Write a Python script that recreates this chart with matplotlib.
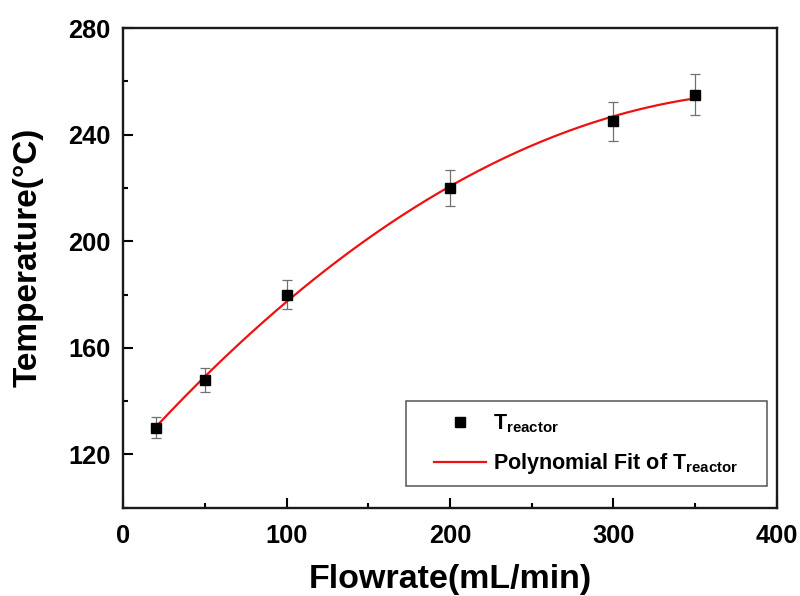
import numpy as np
import matplotlib
matplotlib.use("Agg")
import matplotlib.pyplot as plt
from matplotlib.ticker import MultipleLocator
from matplotlib.patches import Rectangle

plt.rcParams['font.family'] = ['Liberation Sans', 'DejaVu Sans']
plt.rcParams['font.weight'] = 'bold'
plt.rcParams['mathtext.fontset'] = 'custom'
plt.rcParams['mathtext.rm'] = 'Liberation Sans:bold'
plt.rcParams['mathtext.bf'] = 'Liberation Sans:bold'
plt.rcParams['mathtext.default'] = 'bf'

# Measured reactor temperature vs. flowrate
flowrate = [20, 50, 100, 200, 300, 350]
temperature = [130, 148, 180, 220, 245, 255]
temp_err = [3.9, 4.4, 5.4, 6.6, 7.4, 7.6]

# Second-order polynomial fit of the measurements
coef = np.polyfit(flowrate, temperature, 2)
xf = np.linspace(min(flowrate), max(flowrate), 300)
yf = np.polyval(coef, xf)

fig = plt.figure(figsize=(8.0, 5.96), dpi=100)
ax = fig.add_axes([0.154, 0.148, 0.817, 0.805])

ax.errorbar(flowrate, temperature, yerr=temp_err, fmt='none', ecolor='#707070',
            elinewidth=0.9, capsize=3.6, capthick=0.9, zorder=2)
ax.plot(flowrate, temperature, 's', color='black', markersize=7.8, zorder=4,
        label=r'T$_{\mathregular{reactor}}$')
ax.plot(xf, yf, '-', color='#ee1111', lw=1.6, zorder=3,
        label=r'Polynomial Fit of T$_{\mathregular{reactor}}$')

ax.set_xlim(0, 400)
ax.set_ylim(100, 280)
ax.xaxis.set_major_locator(MultipleLocator(100))
ax.xaxis.set_minor_locator(MultipleLocator(50))
ax.yaxis.set_major_locator(MultipleLocator(40))
ax.yaxis.set_minor_locator(MultipleLocator(20))
ax.set_yticks([120, 160, 200, 240, 280])

ax.tick_params(which='both', direction='in', top=False, right=False, width=1.5,
               labelsize=18.3)
ax.tick_params(which='major', length=7)
ax.tick_params(which='minor', length=3.5)
ax.tick_params(axis='x', which='major', pad=12)
ax.tick_params(axis='y', which='major', pad=9)
for s in ax.spines.values():
    s.set_linewidth(1.7)
    s.set_color('#1a1a1a')

ax.set_xlabel('Flowrate(mL/min)', fontsize=24.5, fontweight='bold', labelpad=11)
ax.set_ylabel('Temperature(\u00b0C)', fontsize=24, fontweight='bold')
ax.yaxis.set_label_coords(-0.1225, 0.521)

# Legend box drawn separately so its padding can be wider than tall
box = Rectangle((0.432, 0.046), 0.553, 0.177, transform=ax.transAxes,
                facecolor='white', edgecolor='#555555', lw=1.1, zorder=5)
ax.add_patch(box)
leg = ax.legend(loc='center', bbox_to_anchor=(0.7085, 0.1325), fontsize=15.5,
                frameon=False, handlelength=2.4, labelspacing=0.75,
                handletextpad=0.35, borderpad=0.0, markerscale=0.95)
leg.set_zorder(6)

fig.savefig('out.png', dpi=100)
